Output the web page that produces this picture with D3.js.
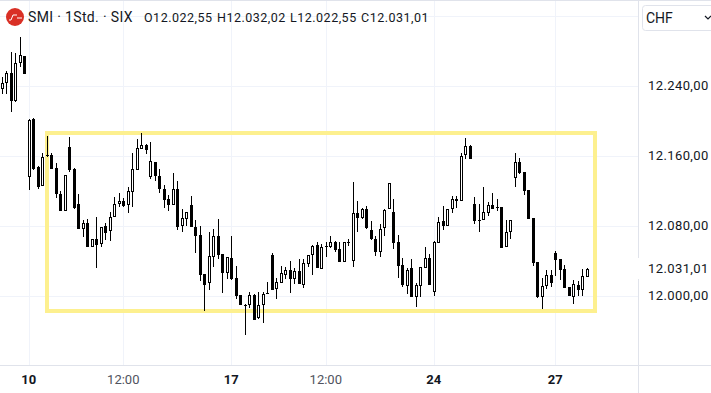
<!DOCTYPE html>
<html>
<head>
<meta charset="utf-8">
<script src="https://cdnjs.cloudflare.com/ajax/libs/d3/7.8.5/d3.min.js"></script>
<style>
  html, body { margin: 0; padding: 0; background: #fff; }
  svg { display: block; }
  text { font-family: Roboto, sans-serif; }
</style>
</head>
<body>
<div id="chart"></div>
<script>
// bar index relative to the first bar of the 10th
const firstBar = -6;

const opens = [
  12237.3,12244.2,12255.6,12223.6,12267.1,12275.0,12136.6,12203.0,12148.0,12126.3,
  12160.6,12161.8,12146.9,12117.2,12097.7,12170.9,12145.8,12105.7,12077.1,12084.0,
  12056.5,12065.7,12059.9,12080.6,12074.9,12090.9,12105.7,12109.1,12104.6,12119.5,
  12144.6,12168.6,12173.2,12136.6,12153.8,12137.8,12122.9,12111.4,12104.6,12122.9,
  12080.6,12088.6,12104.6,12079.4,12070.3,12025.7,12015.4,12045.1,12069.1,12048.5,
  12026.8,12043.9,12021.1,12001.6,11990.2,11990.2,12001.6,11975.3,11990.2,12002.7,
  12047.4,12008.5,12015.4,12024.5,12030.2,12019.9,12029.1,12013.1,12037.1,12047.4,
  12058.8,12031.4,12056.5,12056.5,12062.2,12054.2,12039.4,12062.2,12040.6,12095.4,
  12089.7,12100.0,12076.0,12065.7,12050.8,12078.3,12100.0,12096.6,12062.2,12035.9,
  12011.9,12032.5,11999.3,12011.9,12032.5,12043.9,12005.0,12061.1,12086.3,12080.6,
  12100.0,12111.4,12109.1,12161.8,12172.1,12105.7,12087.4,12087.4,12095.4,12104.6,
  12102.3,12102.3,12056.5,12073.7,12135.5,12153.8,12142.3,12121.7,12089.7,12039.4,
  11999.3,12011.9,12024.5,12049.7,12042.8,12031.4,12010.7,11999.3,12013.1,12007.3,
  12022.55
];
const highs = [
  12251.0,12257.9,12279.6,12278.5,12296.8,12275.0,12203.0,12204.1,12149.2,12164.1,
  12183.5,12164.1,12152.6,12120.6,12138.9,12182.4,12146.9,12117.2,12087.4,12088.6,
  12065.7,12090.9,12079.4,12084.0,12096.6,12113.7,12118.3,12112.6,12125.2,12164.1,
  12180.1,12186.9,12174.4,12176.6,12153.8,12145.8,12127.5,12116.0,12141.2,12132.0,
  12100.0,12096.6,12114.9,12087.4,12080.6,12025.7,12073.7,12077.1,12088.6,12048.5,
  12045.1,12069.1,12034.8,12001.6,11991.3,12005.0,12002.7,12005.0,12005.0,12016.5,
  12049.7,12021.1,12034.8,12033.6,12040.6,12032.5,12042.8,12042.8,12047.4,12058.8,
  12062.2,12059.9,12062.2,12069.1,12063.4,12062.2,12062.2,12065.7,12130.9,12109.1,
  12101.2,12103.4,12086.3,12069.1,12082.9,12100.0,12129.7,12111.4,12070.3,12043.9,
  12032.5,12042.8,12015.4,12033.6,12056.5,12048.5,12063.4,12090.9,12103.4,12100.0,
  12114.9,12114.9,12164.1,12181.2,12173.2,12113.7,12105.7,12125.2,12108.0,12118.3,
  12111.4,12102.3,12087.4,12087.4,12164.1,12158.4,12142.3,12121.7,12089.7,12039.4,
  12021.1,12030.2,12030.2,12052.0,12042.8,12035.9,12010.7,12018.8,12017.6,12031.4,
  12032.02
];
const lows = [
  12231.5,12231.5,12211.0,12222.4,12262.5,12254.4,12121.7,12144.6,12122.9,12126.3,
  12159.5,12145.8,12112.6,12097.7,12097.7,12142.3,12100.0,12077.1,12068.0,12056.5,
  12056.5,12032.5,12056.5,12064.5,12063.4,12090.9,12102.3,12102.3,12095.4,12102.3,
  12144.6,12168.6,12163.0,12134.3,12132.0,12118.3,12101.2,12097.7,12104.6,12076.0,
  12073.7,12080.6,12079.4,12049.7,12017.6,11983.3,12007.3,12033.6,12042.8,12003.9,
  12019.9,12018.8,11997.0,11990.2,11955.9,11986.7,11973.0,11974.2,11969.6,12002.7,
  12007.3,11997.0,12015.4,12019.9,12003.9,12014.2,12014.2,12009.6,12033.6,12024.5,
  12032.5,12031.4,12045.1,12055.4,12050.8,12039.4,12039.4,12057.7,12033.6,12073.7,
  12088.6,12077.1,12064.5,12046.2,12045.1,12069.1,12100.0,12054.2,12021.1,12010.7,
  12002.7,11999.3,11987.9,11999.3,12032.5,12013.1,12000.4,12061.1,12076.0,12080.6,
  12095.4,12101.2,12109.1,12157.2,12157.2,12082.9,12073.7,12087.4,12092.0,12100.0,
  12097.7,12055.4,12056.5,12065.7,12125.2,12140.0,12116.0,12088.6,12034.8,11998.1,
  11985.6,12008.5,12010.7,12023.4,12018.8,12009.6,12000.4,11991.3,12000.4,12000.4,
  12022.55
];
const closes = [
  12244.2,12255.6,12223.6,12267.1,12276.2,12254.4,12201.8,12145.8,12125.2,12159.5,
  12161.8,12145.8,12117.2,12097.7,12138.9,12144.6,12101.2,12077.1,12084.0,12056.5,
  12065.7,12058.8,12079.4,12072.6,12090.9,12105.7,12109.1,12103.4,12120.6,12145.8,
  12169.8,12173.2,12167.5,12154.9,12137.8,12122.9,12110.3,12104.6,12122.9,12079.4,
  12089.7,12096.6,12079.4,12069.1,12024.5,12013.1,12046.2,12069.1,12047.4,12026.8,
  12045.1,12019.9,12000.4,11990.2,11989.0,12001.6,11973.0,11990.2,12002.7,12003.9,
  12007.3,12016.5,12026.8,12030.2,12019.9,12029.1,12014.2,12038.2,12047.4,12057.7,
  12032.5,12056.5,12057.7,12062.2,12053.1,12039.4,12062.2,12061.1,12095.4,12089.7,
  12100.0,12078.3,12065.7,12050.8,12077.1,12098.9,12129.7,12061.1,12034.8,12013.1,
  12030.2,11999.3,12013.1,12033.6,12043.9,12013.1,12062.2,12085.1,12080.6,12100.0,
  12111.4,12109.1,12160.6,12172.1,12157.2,12086.3,12086.3,12096.6,12104.6,12100.0,
  12101.2,12055.4,12073.7,12087.4,12153.8,12141.2,12120.6,12088.6,12038.2,11999.3,
  12011.9,12024.5,12015.4,12041.7,12030.2,12009.6,12000.4,12014.2,12007.3,12023.4,
  12031.01
];

const priceTicks = [12240, 12160, 12080, 12000];
const gridPrices = [12320, 12240, 12160, 12080, 12000];
const lastPrice = 12031.01;
const timeTicks = [0, 21, 45, 66, 90, 117];
const timeLabels = ['10', '12:00', '17', '12:00', '24', '27'];
const dayLabels = ['10', '17', '24', '27'];
const ohlcLabels = ['O12.022,55', 'H12.032,02', 'L12.022,55', 'C12.031,01'];
const zoneLow = 11983.5;   // yellow box, bottom
const zoneHigh = 12186.5;  // yellow box, top
const zoneFrom = 3.9;
const zoneTo = 125.65;

const width = 711;
const height = 393;
const plotRight = 638;
const plotBottom = 365;
const lineColor = '#e0e3eb';
const gridColor = '#f0f3fa';
const textColor = '#131722';

const x = d3.scaleLinear().domain([0, 117]).range([29.3, 555.8]);
const y = d3.scaleLinear().domain([12000, 12240]).range([296.4, 86.6]);
const priceFormat = d3.formatLocale({ decimal: ',', thousands: '.', grouping: [3], currency: ['', ''] }).format(',.2f');

const svg = d3.select('#chart')
  .append('svg')
  .attr('width', width)
  .attr('height', height);

// grid
svg.append('g').selectAll('line.h')
  .data(gridPrices)
  .join('line')
  .attr('x1', 0)
  .attr('x2', plotRight)
  .attr('y1', d => Math.floor(y(d)) + 0.5)
  .attr('y2', d => Math.floor(y(d)) + 0.5)
  .attr('stroke', gridColor);

svg.append('g').selectAll('line.v')
  .data(timeTicks)
  .join('line')
  .attr('x1', d => Math.floor(x(d)) + 0.5)
  .attr('x2', d => Math.floor(x(d)) + 0.5)
  .attr('y1', 0)
  .attr('y2', plotBottom)
  .attr('stroke', gridColor);

// frame lines
svg.append('line').attr('x1', 0).attr('x2', width).attr('y1', 0.5).attr('y2', 0.5).attr('stroke', lineColor);
svg.append('line').attr('x1', 0).attr('x2', width).attr('y1', plotBottom + 0.5).attr('y2', plotBottom + 0.5).attr('stroke', lineColor);
svg.append('line').attr('x1', plotRight + 0.5).attr('x2', plotRight + 0.5).attr('y1', 0).attr('y2', height).attr('stroke', lineColor);

// yellow box goes under the candles
svg.append('rect')
  .attr('x', Math.round(x(zoneFrom)))
  .attr('y', Math.round(y(zoneHigh)))
  .attr('width', Math.round(x(zoneTo)) - Math.round(x(zoneFrom)))
  .attr('height', Math.round(y(zoneLow)) - Math.round(y(zoneHigh)))
  .attr('fill', 'none')
  .attr('stroke', '#fdf08f')
  .attr('stroke-width', 4);

const bars = d3.range(closes.length);
const col = i => Math.floor(x(i + firstBar));
const bodyTop = i => Math.round(y(Math.max(opens[i], closes[i])));
const bodyBottom = i => Math.round(y(Math.min(opens[i], closes[i])));

const candles = svg.append('g').attr('shape-rendering', 'crispEdges');

candles.selectAll('rect.wick')
  .data(bars)
  .join('rect')
  .attr('class', 'wick')
  .attr('x', col)
  .attr('width', 1)
  .attr('y', i => Math.round(y(highs[i])))
  .attr('height', i => Math.max(1, Math.round(y(lows[i])) - Math.round(y(highs[i]))))
  .attr('fill', '#000');

candles.selectAll('rect.body')
  .data(bars)
  .join('rect')
  .attr('class', 'body')
  .attr('x', i => col(i) - 1)
  .attr('width', 3)
  .attr('y', bodyTop)
  .attr('height', i => Math.max(1, bodyBottom(i) - bodyTop(i)))
  .attr('fill', '#000');

candles.selectAll('rect.hollow')
  .data(bars.filter(i => closes[i] >= opens[i] && bodyBottom(i) - bodyTop(i) > 2))
  .join('rect')
  .attr('class', 'hollow')
  .attr('x', col)
  .attr('width', 1)
  .attr('y', i => bodyTop(i) + 1)
  .attr('height', i => bodyBottom(i) - bodyTop(i) - 2)
  .attr('fill', '#fff');

// price axis
const yAxis = d3.axisRight(y)
  .tickValues(priceTicks)
  .tickSize(0)
  .tickPadding(0)
  .tickFormat(priceFormat);

const yAxisG = svg.append('g')
  .attr('transform', 'translate(648,-1)')
  .call(yAxis);
yAxisG.select('.domain').remove();
yAxisG.selectAll('text')
  .attr('font-family', 'Roboto, sans-serif')
  .attr('font-size', 13)
  .attr('letter-spacing', 0.4)
  .attr('fill', textColor);

// last price label
svg.append('rect')
  .attr('x', plotRight)
  .attr('y', 258)
  .attr('width', width - plotRight)
  .attr('height', 21)
  .attr('fill', '#fff');
svg.append('text')
  .attr('x', 648)
  .attr('y', y(lastPrice) + 3.5)
  .attr('font-size', 13)
  .attr('letter-spacing', 0.4)
  .attr('fill', textColor)
  .text(priceFormat(lastPrice));

// time axis
const xAxis = d3.axisBottom(x)
  .tickValues(timeTicks)
  .tickSize(0)
  .tickPadding(0)
  .tickFormat((d, i) => timeLabels[i]);

const xAxisG = svg.append('g')
  .attr('transform', `translate(-1,${plotBottom + 10})`)
  .call(xAxis);
xAxisG.select('.domain').remove();
xAxisG.selectAll('text')
  .attr('font-family', 'Roboto, sans-serif')
  .attr('font-size', 13)
  .attr('font-weight', (d, i) => dayLabels.includes(timeLabels[i]) ? 700 : 400)
  .attr('fill', (d, i) => dayLabels.includes(timeLabels[i]) ? textColor : '#50535e');

// currency button
svg.append('rect')
  .attr('x', 642.5)
  .attr('y', 5.5)
  .attr('width', 80)
  .attr('height', 25)
  .attr('rx', 3)
  .attr('fill', '#fff')
  .attr('stroke', lineColor);
svg.append('text').attr('x', 646).attr('y', 23).attr('font-size', 14).attr('fill', textColor).text('CHF');
svg.append('path').attr('d', 'M705 16l3 3 3-3').attr('fill', 'none').attr('stroke', textColor).attr('stroke-width', 1.2);

// legend
svg.append('circle').attr('cx', 15).attr('cy', 17).attr('r', 9).attr('fill', '#d93025');
svg.append('path')
  .attr('d', 'M9 20h2l2-5h4M17 18h5')
  .attr('fill', 'none')
  .attr('stroke', '#fff')
  .attr('stroke-width', 1);
svg.append('text').attr('x', 28).attr('y', 22).attr('font-size', 14).attr('letter-spacing', 0.35).attr('fill', textColor).text('SMI · 1Std. · SIX');

const ohlcX = d3.scaleOrdinal().domain(ohlcLabels).range([144, 217, 290, 361]);
svg.append('g').selectAll('text')
  .data(ohlcLabels)
  .join('text')
  .attr('x', d => ohlcX(d))
  .attr('y', 22)
  .attr('font-size', 12.5)
  .attr('letter-spacing', 0.5)
  .attr('fill', textColor)
  .text(d => d);
</script>
</body>
</html>
